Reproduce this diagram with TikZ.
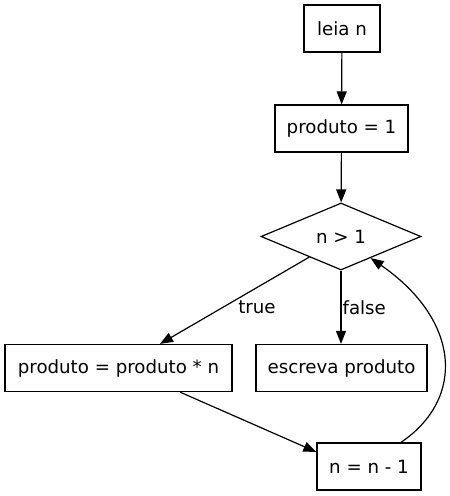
\documentclass[tikz,border=0pt]{standalone}
\usepackage{fontspec}
\setmainfont{DejaVu Sans}
\usetikzlibrary{shapes.geometric,arrows.meta}

\tikzset{
  caixa/.style={draw,rectangle,minimum height=47pt,inner sep=0pt,line width=1.2pt},
  decisao/.style={draw,diamond,minimum width=160pt,minimum height=67pt,inner sep=0pt,aspect=2.4,line width=1.2pt},
  seta/.style={-{Triangle[length=13pt,width=10pt]},line width=1.2pt},
  rotulo/.style={inner sep=1pt}
}

\begin{document}
\begin{tikzpicture}[x=1pt,y=-1pt,font=\fontsize{18.2}{21}\selectfont]
        \useasboundingbox (0,0) rectangle (450,496);
        % nodes of the flowchart
        \node[caixa,minimum width=76pt] (leia) at (342,28.5) {leia n};
        \node[caixa,minimum width=133pt] (prod1) at (341.5,128.5) {produto = 1};
        \node[decisao] (cond) at (341,236.5) {n > 1};
        \node[caixa,minimum width=227pt] (mult) at (118.5,368) {produto = produto * n};
        \node[caixa,minimum width=171pt] (escreva) at (341.5,368) {escreva produto};
        \node[caixa,minimum width=104pt] (decr) at (369,466.5) {n = n - 1};
        % connectors
        \draw[seta] (leia) -- (prod1);
        \draw[seta] (prod1) -- (cond);
        \draw[seta] (cond.-147) -- node[rotulo,pos=0.58,right=14pt] {true} (mult.north -| 160,0);
        \draw[seta] (cond.south) -- node[rotulo,pos=0.5,right=0pt] {false} (escreva.north -| cond.south);
        \draw[seta] (mult.south -| 180,0) -- (decr.west |- 0,452);
        \draw[seta] (decr.north -| 401,0) .. controls (466,398) and (460,320) .. (cond.-36.5);
    \end{tikzpicture}
\end{document}
